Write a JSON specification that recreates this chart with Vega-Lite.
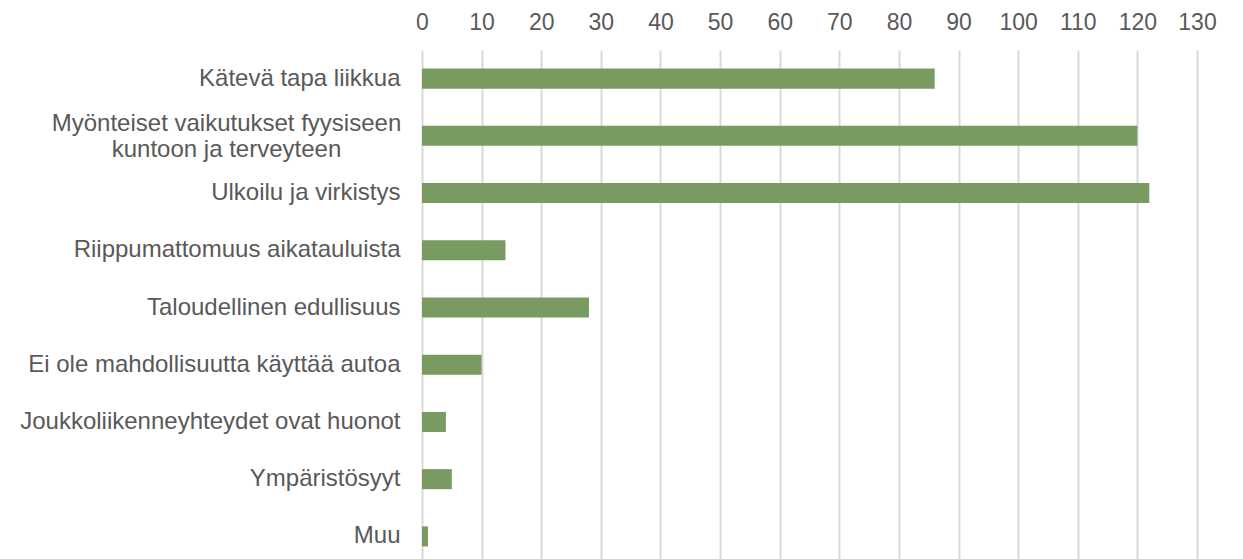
{
  "$schema": "https://vega.github.io/schema/vega-lite/v6.json",
  "autosize": "none",
  "padding": {"left": 422, "top": 50, "right": 46, "bottom": 0},
  "width": 775,
  "height": 509,
  "background": "white",
  "config": {"view": {"stroke": null}, "font": "Liberation Sans"},
  "data": {
    "values": [
      {"syy": "Kätevä tapa liikkua", "n": 86},
      {"syy": "Myönteiset vaikutukset fyysiseen|kuntoon ja terveyteen", "n": 120},
      {"syy": "Ulkoilu ja virkistys", "n": 122},
      {"syy": "Riippumattomuus aikatauluista", "n": 14},
      {"syy": "Taloudellinen edullisuus", "n": 28},
      {"syy": "Ei ole mahdollisuutta käyttää autoa", "n": 10},
      {"syy": "Joukkoliikenneyhteydet ovat huonot", "n": 4},
      {"syy": "Ympäristösyyt", "n": 5},
      {"syy": "Muu", "n": 1}
    ]
  },
  "mark": {"type": "bar", "color": "#799a60"},
  "encoding": {
    "y": {
      "field": "syy", "type": "nominal", "sort": null, "title": null,
      "scale": {"paddingInner": 0.65, "paddingOuter": 0.325, "range": [0, 515]},
      "axis": {
        "labelExpr": "split(datum.value, '|')",
        "labelFontSize": 24, "labelColor": "#595959", "ticks": false, "domain": false,
        "labelLineHeight": 26, "labelLimit": 500,
        "labelPadding": {"condition": {"test": "indexof(datum.value, '|') >= 0", "value": 196}, "value": 22},
        "labelAlign": {"condition": {"test": "indexof(datum.value, '|') >= 0", "value": "center"}, "value": "right"},
        "labelOffset": {"condition": {"test": "indexof(datum.value, '|') >= 0", "value": -12}, "value": 0}
      }
    },
    "x": {
      "field": "n", "type": "quantitative", "title": null,
      "scale": {"domain": [0, 130], "nice": false},
      "axis": {
        "orient": "top", "values": [0,10,20,30,40,50,60,70,80,90,100,110,120,130],
        "labelFontSize": 23, "labelColor": "#595959", "ticks": false, "domain": false,
        "labelPadding": 16, "gridColor": "#d9d9d9", "gridWidth": 2, "labelFlush": false
      }
    }
  }
}
